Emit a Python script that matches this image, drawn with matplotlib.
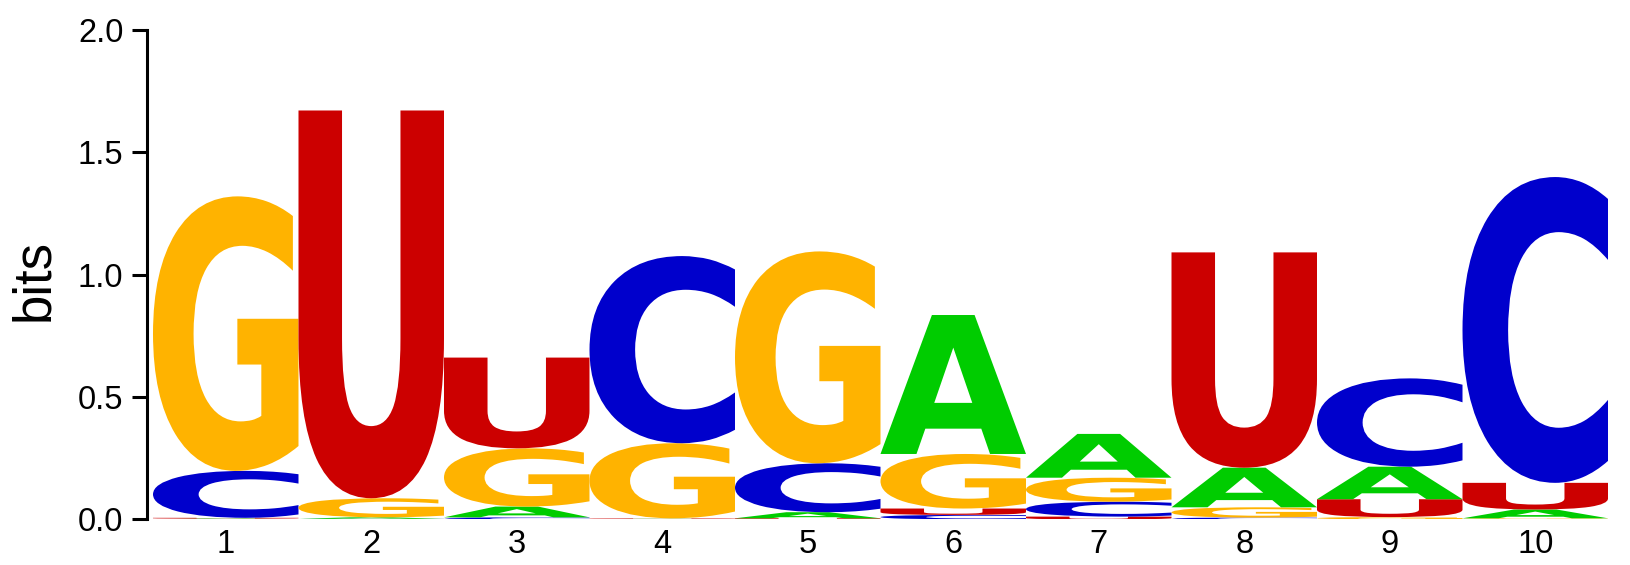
import matplotlib
matplotlib.use('Agg')
import matplotlib.pyplot as plt
from matplotlib.font_manager import FontProperties
from matplotlib.textpath import TextPath
from matplotlib.patches import PathPatch
from matplotlib.transforms import Affine2D

# information content (bits) of each base at each position
positions = [1, 2, 3, 4, 5, 6, 7, 8, 9, 10]
bits_A = [0.003, 0.006, 0.044, 0.002, 0.025, 0.568, 0.179, 0.162, 0.133, 0.036]
bits_C = [0.192, 0.002, 0.008, 0.765, 0.200, 0.018, 0.061, 0.007, 0.361, 1.250]
bits_G = [1.122, 0.078, 0.238, 0.307, 0.866, 0.223, 0.098, 0.042, 0.009, 0.004]
bits_U = [0.003, 1.585, 0.371, 0.002, 0.004, 0.026, 0.011, 0.880, 0.073, 0.109]
y_ticks = [0.0, 0.5, 1.0, 1.5, 2.0]

colors = {'A': '#00CC00', 'C': '#0000CC', 'G': '#FFB300', 'U': '#CC0000'}
heights = {'A': bits_A, 'C': bits_C, 'G': bits_G, 'U': bits_U}

letter_font = FontProperties(family='DejaVu Sans', weight='bold')


def draw_letter(ax, ch, x_left, y_bottom, width, height):
	path = TextPath((0, 0), ch, size=1, prop=letter_font)
	ext = path.get_extents()
	tr = Affine2D().translate(-ext.x0, -ext.y0) \
		.scale(width / ext.width, height / ext.height) \
		.translate(x_left, y_bottom)
	patch = PathPatch(tr.transform_path(path), facecolor=colors[ch], edgecolor='none', lw=0)
	ax.add_patch(patch)


fig = plt.figure(figsize=(16.3, 5.65), dpi=100)
ax = fig.add_axes([147 / 1630, 45.7 / 565, 1461 / 1630, 489.3 / 565])

for i, pos in enumerate(positions):
	stack = sorted(heights.keys(), key=lambda b: heights[b][i])
	y = 0
	for base in stack:
		h = heights[base][i]
		draw_letter(ax, base, pos - 0.5, y, 1.0, h)
		y += h

ax.set_xlim(0.4588, 10.5)
ax.set_ylim(0, 2.0)

for side in ['top', 'right', 'bottom']:
	ax.spines[side].set_visible(False)
ax.spines['left'].set_linewidth(2.2)
ax.spines['left'].set_bounds(0, 2.0)

ax.set_yticks(y_ticks)
ax.set_yticklabels(['%.1f' % t for t in y_ticks])
ax.tick_params(axis='y', length=11, width=2.2, pad=6, labelsize=23.5)
ax.set_xticks(positions)
ax.set_xticklabels([str(p) for p in positions])
ax.tick_params(axis='x', length=0, pad=7, labelsize=23.5)
for lab in ax.get_xticklabels() + ax.get_yticklabels():
	lab.set_fontfamily('Liberation Sans')

ax.set_ylabel('bits', fontsize=38, fontfamily='Liberation Sans')
ax.yaxis.set_label_coords(-0.0773, 0.489)
ax.yaxis.label.set_verticalalignment('center')

fig.savefig('out.png', dpi=100)
plt.close()
